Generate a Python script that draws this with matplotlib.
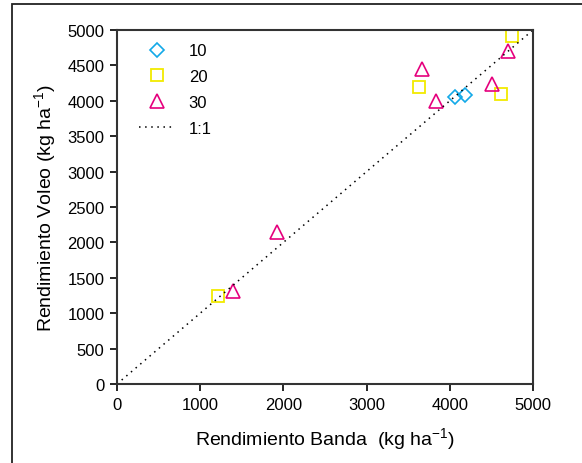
import matplotlib
matplotlib.use("Agg")
import matplotlib.pyplot as plt
from matplotlib.patches import Rectangle

plt.rcParams['font.family'] = ['Liberation Sans', 'DejaVu Sans']

# datos por dosis
banda_10 = [4060, 4180]
voleo_10 = [4050, 4080]
banda_20 = [1210, 3630, 4610, 4750]
voleo_20 = [1250, 4200, 4090, 4920]
banda_30 = [1400, 1920, 3670, 3840, 4510, 4700]
voleo_30 = [1320, 2150, 4450, 4000, 4240, 4700]
linea_11 = [0, 5000]
ticks = [0, 500, 1000, 1500, 2000, 2500, 3000, 3500, 4000, 4500, 5000]
xticks = [0, 1000, 2000, 3000, 4000, 5000]

fig = plt.figure(figsize=(5.82, 4.64), dpi=100)
# marco de la figura (recortado a la derecha y abajo)
fig.patches.append(Rectangle((12 / 582, -0.1), 1.2, 1.1 - 5 / 464, transform=fig.transFigure,
                             fill=False, edgecolor="#222222", linewidth=1.3))
ax = fig.add_axes([117 / 582, 1 - 385 / 464, 416 / 582, 354 / 464])

ax.plot(banda_10, voleo_10, linestyle="none", marker="D", markersize=7, markerfacecolor="none",
        markeredgecolor="#12A9E8", markeredgewidth=1.2, label="10")
ax.plot(banda_20, voleo_20, linestyle="none", marker="s", markersize=9, markerfacecolor="none",
        markeredgecolor="#F2EA00", markeredgewidth=1.3, label="20")
ax.plot(banda_30, voleo_30, linestyle="none", marker="^", markersize=10, markerfacecolor="none",
        markeredgecolor="#E5007D", markeredgewidth=1.2, label="30")
ax.plot(linea_11, linea_11, color="black", linestyle=(0, (1, 3)), linewidth=1.1, label="1:1")

ax.set_xlim(0, 5000)
ax.set_ylim(0, 5000)
ax.set_xticks(xticks)
ax.set_yticks(ticks)
ax.tick_params(direction="out", length=5, width=1.2, labelsize=12, pad=4)
for s in ax.spines.values():
    s.set_linewidth(1.5)
    s.set_color("#333333")

ax.set_xlabel("Rendimiento Banda  (kg ha$^{\\mathregular{-1}}$)", fontsize=14, labelpad=10)
ax.set_ylabel("Rendimiento Voleo (kg ha$^{\\mathregular{-1}}$)", fontsize=14, labelpad=6)

ax.legend(loc="upper left", frameon=False, fontsize=12, handlelength=2.2,
          borderaxespad=0.4, labelspacing=0.65, bbox_to_anchor=(0.02, 1.0))

plt.savefig("out.png", dpi=100)
